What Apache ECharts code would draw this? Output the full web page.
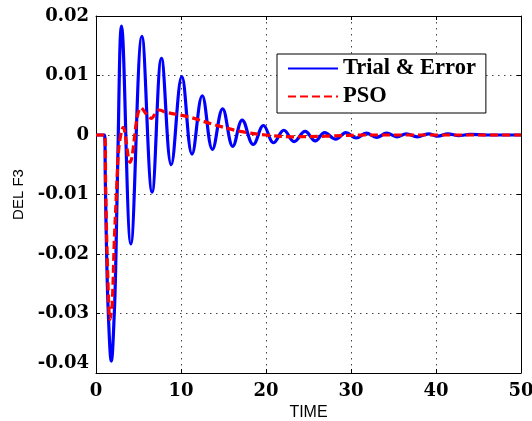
<!DOCTYPE html>
<html>
<head>
<meta charset="utf-8">
<script src="https://cdn.jsdelivr.net/npm/echarts@6/dist/echarts.min.js"></script>
<style>
html,body{margin:0;padding:0;background:#fff;}
#chart{width:532px;height:421px;}
</style>
</head>
<body>
<div id="chart"></div>
<script>
// Series names
var seriesNames = ['Trial & Error', 'PSO'];

// Trial & Error (blue) : time values and response values
var trialTime = [0, 1.0, 1.1, 1.25, 1.45, 1.8, 2.15, 2.35, 2.55, 3.0, 4.1, 5.4, 6.6, 7.7, 8.85, 10.1, 11.3, 12.5, 13.7, 14.9, 16.1, 17.2, 18.5, 19.7, 20.9, 22.1, 23.3, 24.6, 25.8, 26.9, 28.2, 29.4, 30.6, 31.8, 33.0, 34.2, 35.4, 36.5, 37.8, 39.1, 40.2, 41.4, 42.7, 44.0, 46.0, 50.0];
var trialValue = [0, 0, -0.008, -0.02, -0.03, -0.038, -0.03, -0.02, -0.005, 0.0183, -0.0183, 0.0166, -0.0096, 0.0129, -0.005, 0.0098, -0.0032, 0.0066, -0.0024, 0.0044, -0.0019, 0.0025, -0.0016, 0.0016, -0.0013, 0.0008, -0.0011, 0.0006, -0.001, 0.0004, -0.0007, 0.0004, -0.0005, 0.0003, -0.0004, 0.0003, -0.0003, 0.0002, -0.0003, 0.0002, -0.0002, 0.0002, -0.0001, 0.0001, 0, 0];

// PSO (red dashed)
var psoTime = [0, 1.0, 1.15, 1.35, 1.65, 1.9, 2.15, 2.45, 2.7, 3.2, 4.0, 5.3, 6.5, 7.4, 8.3, 11.0, 14.0, 17.0, 20.0, 23.0, 27.0, 32.0, 50.0];
var psoValue = [0, 0, -0.01, -0.022, -0.031, -0.0285, -0.018, -0.0085, -0.002, 0.0013, -0.0046, 0.0046, 0.0028, 0.0042, 0.0038, 0.003, 0.0017, 0.0006, 0, -0.0003, -0.0002, 0, 0];

// Axis ranges / ticks
var xMin = 0, xMax = 50, xStep = 10;
var yMin = -0.04, yMax = 0.02, yStep = 0.01;
var xTitle = 'TIME';
var yTitle = 'DEL F3';

function pairs(t, v) { return t.map(function (x, i) { return [x, v[i]]; }); }

var chart = echarts.init(document.getElementById('chart'), null, {renderer: 'canvas'});
var tickFont = {fontFamily: '"DejaVu Serif", serif', fontWeight: 'bold', fontSize: 18, color: '#000'};
var gridLine = {show: true, lineStyle: {color: '#444', type: [1.5, 4.5], width: 1}};

chart.setOption({
  animation: false,
  backgroundColor: '#fff',
  grid: {left: 96, right: 11, top: 16, bottom: 48, containLabel: false, outerBoundsMode: 'none'},
  legend: {
    orient: 'vertical',
    left: 277, top: 54,
    data: seriesNames,
    itemWidth: 50, itemHeight: 14, itemGap: 5,
    padding: [3, 10, 5, 10],
    backgroundColor: '#fff',
    borderColor: '#000', borderWidth: 1, borderRadius: 0,
    itemStyle: {opacity: 0},
    textStyle: {fontFamily: '"Liberation Serif", "Times New Roman", serif', fontWeight: 'bold', fontSize: 22.5, color: '#000'}
  },
  xAxis: [{
    type: 'value', min: xMin, max: xMax, interval: xStep,
    name: xTitle, nameLocation: 'middle', nameGap: 25,
    nameTextStyle: {fontFamily: '"Liberation Sans", Arial, sans-serif', fontSize: 16, color: '#000'},
    axisLine: {show: true, onZero: false, lineStyle: {color: '#000', width: 1}},
    axisTick: {show: true, inside: true, length: 4, lineStyle: {color: '#000'}},
    axisLabel: Object.assign({margin: 9}, tickFont),
    splitLine: gridLine
  }, {
    type: 'value', min: xMin, max: xMax, interval: xStep, position: 'top',
    axisLine: {show: true, onZero: false, lineStyle: {color: '#000', width: 1}},
    axisTick: {show: true, inside: true, length: 4, lineStyle: {color: '#000'}},
    axisLabel: {show: false}, splitLine: {show: false}
  }],
  yAxis: [{
    type: 'value', min: yMin, max: yMax, interval: yStep,
    name: yTitle, nameLocation: 'middle', nameGap: 70,
    nameTextStyle: {fontFamily: '"Liberation Sans", Arial, sans-serif', fontSize: 15, color: '#000'},
    axisLine: {show: true, onZero: false, lineStyle: {color: '#000', width: 1}},
    axisTick: {show: true, inside: true, length: 4, lineStyle: {color: '#000'}},
    axisLabel: Object.assign({
      margin: 7,
      formatter: function (v) {
        var s = String(+v.toFixed(2));
        return Math.abs(v - yMin) < 1e-9 ? '{low|' + s + '}' : s;
      },
      rich: {low: Object.assign({padding: [0, 0, 20, 0]}, tickFont)}
    }, tickFont),
    splitLine: gridLine
  }, {
    type: 'value', min: yMin, max: yMax, interval: yStep, position: 'right',
    axisLine: {show: true, onZero: false, lineStyle: {color: '#000', width: 1}},
    axisTick: {show: true, inside: true, length: 4, lineStyle: {color: '#000'}},
    axisLabel: {show: false}, splitLine: {show: false}
  }],
  series: [{
    name: seriesNames[0], type: 'line', data: pairs(trialTime, trialValue),
    symbol: 'none', smooth: 0.4,
    lineStyle: {color: '#0000ff', width: 3.2},
    itemStyle: {color: '#0000ff'}
  }, {
    name: seriesNames[1], type: 'line', data: pairs(psoTime, psoValue),
    symbol: 'none', smooth: 0.35,
    lineStyle: {color: '#ff0000', width: 3.2, type: [8, 4]},
    itemStyle: {color: '#ff0000'}
  }]
});
</script>
</body>
</html>
